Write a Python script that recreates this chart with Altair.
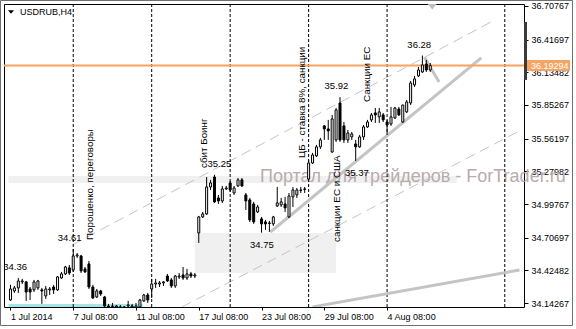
import altair as alt
import pandas as pd

FONT = "Liberation Sans"

# ---------------- candle data (USDRUB, H4) ----------------
opens = [34.169, 34.247, 34.273, 34.325, 34.325, 34.264, 34.256, 34.273, 34.256, 34.204,
         34.256, 34.281, 34.256, 34.359, 34.394, 34.446, 34.428, 34.549, 34.549, 34.437,
         34.480, 34.281, 34.195, 34.247, 34.195, 34.117, 34.117, 34.109, 34.109, 34.100,
         34.117, 34.109, 34.100, 34.109, 34.161, 34.212, 34.264, 34.307, 34.307, 34.316,
         34.376, 34.342, 34.290, 34.368, 34.385, 34.359, 34.394, 34.376, 34.748, 34.886,
         34.912, 35.145, 35.231, 35.050, 35.024, 35.128, 35.180, 35.093, 35.154, 35.206,
         35.076, 35.033, 34.998, 34.929, 34.869, 34.843, 34.834, 34.826, 34.981, 34.990,
         34.998, 34.886, 35.059, 35.076, 35.119, 35.128, 35.214, 35.352, 35.413, 35.491,
         35.672, 35.646, 35.447, 35.551, 35.870, 35.672, 35.551, 35.577, 35.516, 35.491,
         35.577, 35.663, 35.724, 35.784, 35.750, 35.767, 35.706, 35.689, 35.741, 35.818,
         35.706, 35.793, 35.870, 36.026, 36.104, 36.138, 36.207, 36.155]
highs = [34.300, 34.290, 34.359, 34.351, 34.333, 34.281, 34.342, 34.342, 34.273, 34.290,
         34.281, 34.299, 34.376, 34.411, 34.463, 34.471, 34.610, 34.575, 34.558, 34.454,
         34.506, 34.299, 34.264, 34.256, 34.204, 34.135, 34.143, 34.126, 34.126, 34.117,
         34.161, 34.135, 34.143, 34.178, 34.221, 34.230, 34.351, 34.351, 34.333, 34.333,
         34.394, 34.359, 34.385, 34.402, 34.454, 34.437, 34.411, 34.402, 34.895, 34.929,
         35.231, 35.206, 35.250, 35.076, 35.154, 35.154, 35.197, 35.154, 35.222, 35.222,
         35.093, 35.050, 35.016, 34.990, 34.886, 34.860, 34.852, 34.895, 35.145, 35.050,
         35.059, 35.093, 35.145, 35.136, 35.145, 35.145, 35.378, 35.439, 35.508, 35.568,
         35.680, 35.724, 35.767, 35.827, 35.920, 35.706, 35.637, 35.620, 35.551, 35.594,
         35.680, 35.724, 35.784, 35.827, 35.827, 35.784, 35.724, 35.836, 35.836, 35.836,
         35.853, 35.896, 36.060, 36.104, 36.181, 36.280, 36.242, 36.216]
lows = [34.161, 34.230, 34.230, 34.307, 34.161, 34.169, 34.238, 34.256, 34.135, 34.178,
        34.212, 34.221, 34.247, 34.351, 34.385, 34.385, 34.411, 34.532, 34.402, 34.402,
        34.264, 34.178, 34.186, 34.204, 34.109, 34.091, 34.091, 34.091, 34.091, 34.083,
        34.100, 34.091, 34.083, 34.100, 34.152, 34.143, 34.186, 34.273, 34.281, 34.290,
        34.325, 34.273, 34.273, 34.351, 34.342, 34.342, 34.359, 34.359, 34.661, 34.877,
        34.903, 35.119, 35.007, 34.998, 35.007, 35.119, 35.102, 35.076, 35.145, 35.145,
        34.946, 34.843, 34.826, 34.921, 34.750, 34.774, 34.757, 34.808, 34.972, 34.972,
        34.929, 34.877, 34.972, 35.050, 35.093, 35.093, 35.206, 35.343, 35.404, 35.473,
        35.551, 35.551, 35.439, 35.534, 35.534, 35.525, 35.525, 35.551, 35.370, 35.482,
        35.551, 35.655, 35.706, 35.698, 35.698, 35.706, 35.594, 35.672, 35.732, 35.758,
        35.698, 35.784, 35.853, 36.009, 36.095, 36.130, 36.138, 36.138]
closes = [34.264, 34.273, 34.333, 34.333, 34.238, 34.238, 34.325, 34.333, 34.247, 34.264,
          34.264, 34.256, 34.368, 34.394, 34.454, 34.402, 34.549, 34.558, 34.420, 34.411,
          34.281, 34.186, 34.247, 34.221, 34.117, 34.109, 34.113, 34.117, 34.105, 34.109,
          34.126, 34.117, 34.117, 34.169, 34.212, 34.169, 34.307, 34.316, 34.316, 34.325,
          34.333, 34.290, 34.376, 34.376, 34.359, 34.394, 34.376, 34.385, 34.886, 34.912,
          35.145, 35.180, 35.016, 35.024, 35.128, 35.136, 35.119, 35.136, 35.206, 35.154,
          35.024, 34.860, 34.843, 34.972, 34.826, 34.826, 34.830, 34.886, 35.007, 35.016,
          34.964, 35.067, 35.119, 35.119, 35.115, 35.124, 35.352, 35.421, 35.491, 35.551,
          35.646, 35.629, 35.732, 35.810, 35.551, 35.551, 35.611, 35.603, 35.491, 35.577,
          35.663, 35.706, 35.767, 35.767, 35.793, 35.724, 35.680, 35.750, 35.827, 35.767,
          35.853, 35.879, 36.043, 36.078, 36.155, 36.199, 36.155, 36.19294]

# ---------------- axes ----------------
x_tick_bars = [0, 16, 32, 48, 64, 80, 96]
x_tick_labels = ["1 Jul 2014", "7 Jul 08:00", "11 Jul 08:00", "17 Jul 08:00",
                 "23 Jul 08:00", "29 Jul 08:00", "4 Aug 08:00"]
y_ticks = [34.14267, 34.42482, 34.70697, 34.99767, 35.27982,
           35.56197, 35.85267, 36.13482, 36.41697, 36.70767]
separator_bars = [16, 36, 56, 76, 96, 126]
current_price = 36.19294
marker_range = [36.570, 36.069]

# ---------------- annotations ----------------
above_labels = ["34.36", "34.61", "35.25", "35.92", "36.28"]
above_bars = [1.2, 15.1, 53.25, 83.1, 104.2]
above_prices = [34.36, 34.61, 35.25, 35.92, 36.28]
below_labels = ["34.75", "35.37"]
below_bars = [64.1, 88.3]
below_prices = [34.75, 35.37]

events = ["Порошенко, переговоры", "сбит Боинг", "ЦБ - ставка 8%, санкции",
          "санкции ЕС и США", "Санкции ЕС"]
event_bars = [20.25, 49.25, 74.25, 83.25, 91.0]
event_prices = [34.687, 35.309, 35.396, 34.670, 35.879]

dash_line_bars = [[15.75, 123.0], [43.75, 129.75]]
dash_line_prices = [[34.644, 36.579], [34.109, 35.629]]
thick_line_bars = [[66.25, 120.0], [105.5, 109.25], [77.0, 129.75]]
thick_line_prices = [[34.756, 36.259], [36.268, 36.052], [34.109, 34.428]]

box_bars = [[47.0, 83.0], [-0.5, 113.75]]
box_prices = [[34.402, 34.748], [35.180, 35.240]]
cyan_bars = [-0.5, 33.75]
cyan_prices = [34.108, 34.135]

watermark = "Портал для трейдеров - ForTrader.ru"
symbol_title = "USDRUB,H4"

# ---------------- frames ----------------
n = len(opens)
candles = pd.DataFrame({"bar": list(range(n)), "open": opens, "high": highs,
                        "low": lows, "close": closes})

dash_rows = []
for k, (bs, ps) in enumerate(zip(dash_line_bars, dash_line_prices)):
    for b, p in zip(bs, ps):
        dash_rows.append({"id": k, "bar": b, "price": p})
dash_df = pd.DataFrame(dash_rows)

thick_rows = []
for k, (bs, ps) in enumerate(zip(thick_line_bars, thick_line_prices)):
    for b, p in zip(bs, ps):
        thick_rows.append({"id": k, "bar": b, "price": p})
thick_df = pd.DataFrame(thick_rows)

box_df = pd.DataFrame({"b1": [b[0] for b in box_bars], "b2": [b[1] for b in box_bars],
                       "p1": [p[0] for p in box_prices], "p2": [p[1] for p in box_prices]})
cyan_df = pd.DataFrame({"b1": [cyan_bars[0]], "b2": [cyan_bars[1]],
                        "p1": [cyan_prices[0]], "p2": [cyan_prices[1]]})

W, H = 520, 303
xs = alt.Scale(domain=[-0.375, 129.625], nice=False, zero=False)
ys = alt.Scale(domain=[34.1082, 36.7249], nice=False, zero=False)

label_expr = ""
for b, l in zip(x_tick_bars, x_tick_labels):
    label_expr += f"datum.value == {b} ? '{l}' : "
label_expr += "''"

x_axis = alt.Axis(values=x_tick_bars, labelExpr=label_expr, orient="bottom", tickSize=3,
                  tickColor="black", labelAlign="left", labelPadding=2, labelFlush=False,
                  labelOverlap=False, domain=False, grid=False, labelFont=FONT,
                  labelFontSize=9, labelColor="black", title=None, labelBaseline="top")
y_axis = alt.Axis(values=y_ticks, format=".5f", orient="right", tickSize=4,
                  tickColor="black", labelPadding=3, labelFlush=False, labelOverlap=False,
                  domain=False, grid=False, labelFont=FONT, labelFontSize=9,
                  labelColor="black", title=None, labelBaseline="middle")


def qx(field):
    return alt.X(field, scale=xs, axis=x_axis)


def qy(field):
    return alt.Y(field, scale=ys, axis=y_axis)


one = pd.DataFrame({"a": [0]})

base = alt.Chart(candles)
wicks = base.mark_rule(color="black", strokeWidth=1, clip=True).encode(
    x=qx("bar:Q"), y=qy("low:Q"), y2="high:Q")
bodies = base.mark_bar(size=2, stroke="black", strokeWidth=1, clip=True).encode(
    x=qx("bar:Q"), y=qy("open:Q"), y2="close:Q",
    fill=alt.condition("datum.close >= datum.open", alt.value("white"), alt.value("black")))

frame = alt.Chart(one).mark_rect(fill="transparent", stroke="#707070", strokeWidth=1,
                                 clip=False).encode(
    x=alt.value(-3.5), x2=alt.value(568.5), y=alt.value(-3.5), y2=alt.value(321.5))

boxes = alt.Chart(box_df).mark_rect(color="#f0f0f0", clip=True).encode(
    x=qx("b1:Q"), x2="b2:Q", y=qy("p1:Q"), y2="p2:Q")
cyan = alt.Chart(cyan_df).mark_rect(color="#a4e6e6", clip=True).encode(
    x=qx("b1:Q"), x2="b2:Q", y=qy("p1:Q"), y2="p2:Q")

wm = alt.Chart(one).mark_text(text=watermark, font=FONT, fontSize=18, color="#b9abab",
                              align="left", baseline="alphabetic", clip=False).encode(
    x=alt.value(256), y=alt.value(178))

dashed = alt.Chart(dash_df).mark_line(color="#c4c4c4", strokeWidth=1, strokeDash=[10, 6],
                                      clip=True).encode(
    x=qx("bar:Q"), y=qy("price:Q"), detail="id:N")

seps = alt.Chart(pd.DataFrame({"bar": separator_bars})).mark_rule(
    color="black", strokeWidth=1, strokeDash=[3, 2]).encode(x=qx("bar:Q"))

thick = alt.Chart(thick_df).mark_line(color="#c4c4c4", strokeWidth=3, clip=True).encode(
    x=qx("bar:Q"), y=qy("price:Q"), detail="id:N")

price_line = alt.Chart(pd.DataFrame({"p": [current_price]})).mark_rule(
    color="#F4A460", strokeWidth=2).encode(y=qy("p:Q"))

above_df = pd.DataFrame({"t": above_labels, "bar": above_bars, "p": above_prices})
below_df = pd.DataFrame({"t": below_labels, "bar": below_bars, "p": below_prices})
above_txt = alt.Chart(above_df).mark_text(font=FONT, fontSize=9.5, color="black", dy=-11,
                                          clip=True).encode(
    x=qx("bar:Q"), y=qy("p:Q"), text="t:N")
below_txt = alt.Chart(below_df).mark_text(font=FONT, fontSize=9.5, color="black", dy=12,
                                          clip=True).encode(
    x=qx("bar:Q"), y=qy("p:Q"), text="t:N")

ev_df = pd.DataFrame({"t": events, "bar": event_bars, "p": event_prices})
ev_txt = alt.Chart(ev_df).mark_text(font=FONT, fontSize=9.8, color="black", angle=270,
                                    align="left", baseline="middle", clip=True).encode(
    x=qx("bar:Q"), y=qy("p:Q"), text="t:N")

title_txt = alt.Chart(one).mark_text(text=symbol_title, font=FONT, fontSize=9, color="black",
                                     align="left", baseline="middle").encode(
    x=alt.value(16), y=alt.value(8))
title_tri = alt.Chart(one).mark_point(shape="M-1,-0.55L1,-0.55L0,0.55Z", filled=True,
                                      color="black", size=36, opacity=1).encode(
    x=alt.value(7), y=alt.value(8))

shift_tri = alt.Chart(pd.DataFrame({"bar": [107.5]})).mark_point(
    shape="M-1,-0.6L1,-0.6L0,0.6Z", filled=True, color="#c0c0c0", size=81, opacity=1,
    clip=False).encode(x=qx("bar:Q"), y=alt.value(2.7))

marker_df = pd.DataFrame({"p1": [marker_range[0]], "p2": [marker_range[1]]})
marker = alt.Chart(marker_df).mark_rule(color="#3a3a3a", strokeWidth=3, clip=False).encode(
    x=alt.value(521.5), y=qy("p1:Q"), y2="p2:Q")

cp_df = pd.DataFrame({"p": [current_price], "t": [f"{current_price:.5f}"]})
cp_box = alt.Chart(cp_df).mark_point(shape="M-1,-0.256L1,-0.256L1,0.256L-1,0.256Z",
                                     filled=True, color="#F5A563", size=1849, opacity=1,
                                     clip=False).encode(
    x=alt.value(544.5), y=qy("p:Q"))
cp_txt = alt.Chart(cp_df).mark_text(font=FONT, fontSize=9, color="white", align="left",
                                    baseline="middle", clip=False).encode(
    x=alt.value(527), y=qy("p:Q"), text="t:N")

chart = alt.layer(
    frame, boxes, cyan, wm, dashed, seps, thick, price_line, wicks, bodies,
    above_txt, below_txt, ev_txt, title_tri, title_txt, shift_tri, marker, cp_box, cp_txt
).properties(
    width=W, height=H,
    autosize=alt.AutoSizeParams(type="none"),
    padding={"left": 4, "top": 4, "right": 52, "bottom": 22},
    background="white",
).configure_view(stroke="black", strokeWidth=1).configure_axis(
    labelOverlap=False, labelBound=False)

chart.save("out.html", embed_options={"renderer": "svg", "actions": False})
